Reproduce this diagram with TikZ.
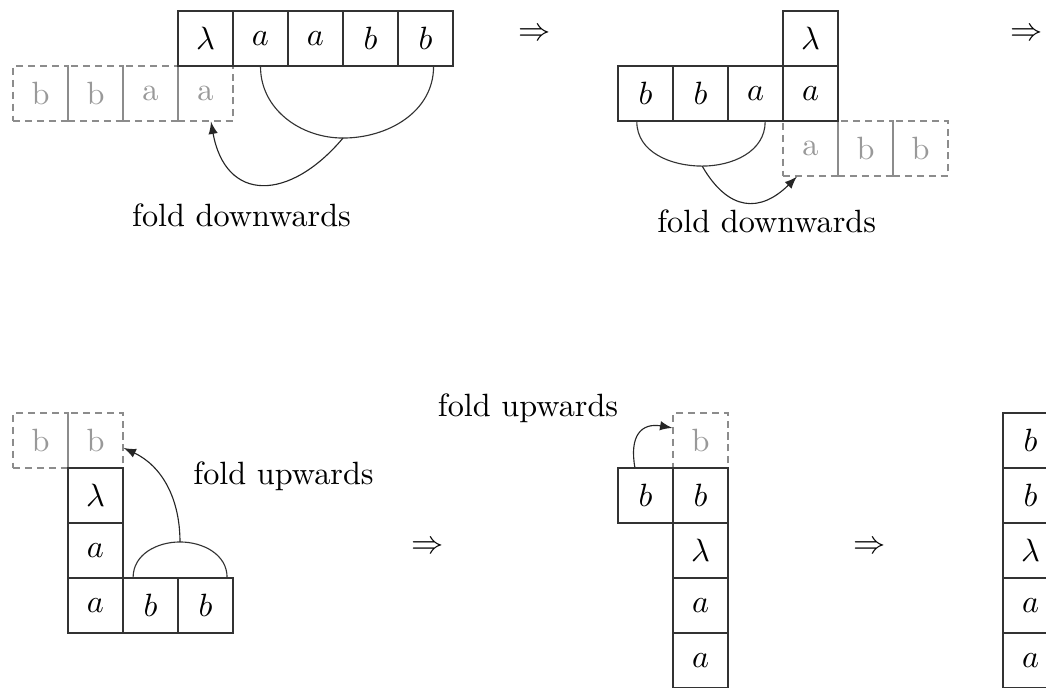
\documentclass[tikz,border=0pt]{standalone}
\usepackage{amsmath}

\begin{document}
\begin{tikzpicture}[x=0.6cm, y=0.6cm, line width=0.35pt,
  cell/.style={draw=black!80, minimum size=0.6cm, inner sep=0pt},
  ghost/.style={draw=black!45, dash pattern=on 2.2pt off 1.5pt, text=black!40, minimum size=0.6cm, inner sep=0pt},
  brace/.style={black!80},
  fold/.style={black!85, -latex}]
\useasboundingbox (0,0) rectangle (19.018,-12.509);

%the first step
\begin{scope}[shift={(0.7364,-0.7)}]
\node [ghost] (ga1) at (0,-1) {b};
\node [ghost] (ga2) at (1,-1) {b};
\node [ghost] (ga3) at (2,-1) {a};
\node [ghost] (ga4) at (3,-1) {a};
\node [cell] (l1) at (3,0) {$\lambda$};
\node [cell] (a1) at (4,0) {$a$};
\node [cell] (a2) at (5,0) {$a$};
\node [cell] (b1) at (6,0) {$b$};
\node [cell] (b2) at (7,0) {$b$};
\coordinate (fold1) at (5.5,-1.81);
\draw [brace] (a1.south) to[out=-90,in=180] (fold1) to[out=0,in=-90] ([xshift=2.5pt]b2.south);
\draw [fold] (fold1) to[out=-130,in=-80,looseness=1.6] ([xshift=1.7pt]ga4.south);

%the second step
\node [ghost] (gb1) at (14,-2) {a};
\node [ghost] (gb2) at (15,-2) {b};
\node [ghost] (gb3) at (16,-2) {b};
\node [cell] (l2) at (14,0) {$\lambda$};
\node [cell] (c1) at (11,-1) {$b$};
\node [cell] (c2) at (12,-1) {$b$};
\node [cell] (c3) at (13,-1) {$a$};
\node [cell] (c4) at (14,-1) {$a$};
\coordinate (fold2) at (12.03,-2.32);
\draw [brace] ([xshift=-2.7pt]c1.south) to[out=-90,in=180] (fold2) to[out=0,in=-90] ([xshift=3pt]c3.south);
\draw [fold] (fold2) to[out=-60,in=-135,looseness=1.4] ([xshift=-4.2pt]gb1.south);
\end{scope}

\node [anchor=base] (down1) at (4.391,-4.127) {fold downwards};
\node [anchor=base] (down2) at (13.94,-4.236) {fold downwards};
\node (imp1) at (9.727,-0.636) {$\Rightarrow$};
\node (imp2) at (18.673,-0.636) {$\Rightarrow$};

%the third step
\begin{scope}[shift={(0.7364,-8.009)}]
\node [ghost] (gc1) at (0,0) {b};
\node [ghost] (gc2) at (1,0) {b};
\node [cell] (l3) at (1,-1) {$\lambda$};
\node [cell] (d1) at (1,-2) {$a$};
\node [cell] (d2) at (1,-3) {$a$};
\node [cell] (d3) at (2,-3) {$b$};
\node [cell] (d4) at (3,-3) {$b$};
\coordinate (fold3) at (2.536,-1.845);
\draw [brace] ([xshift=-5.4pt]d3.north) to[out=90,in=180] (fold3) to[out=0,in=90] ([xshift=6.7pt]d4.north);
\draw [fold] (fold3) to[out=90,in=-25] ([yshift=-2.3pt]gc2.east);

%the fourth step
\node [ghost] (ge1) at (12,0) {b};
\node [cell] (e1) at (11,-1) {$b$};
\node [cell] (e2) at (12,-1) {$b$};
\node [cell] (l4) at (12,-2) {$\lambda$};
\node [cell] (e3) at (12,-3) {$a$};
\node [cell] (e4) at (12,-4) {$a$};
\draw [fold] ([xshift=-3.3pt]e1.north) to[out=100,in=170,looseness=1.5] ([yshift=3.9pt]ge1.west);

%the result
\node [cell] (f1) at (18,0) {$b$};
\node [cell] (f2) at (18,-1) {$b$};
\node [cell] (l5) at (18,-2) {$\lambda$};
\node [cell] (f3) at (18,-3) {$a$};
\node [cell] (f4) at (18,-4) {$a$};
\end{scope}

\node [anchor=base] (up1) at (5.155,-8.818) {fold upwards};
\node [anchor=base] (up2) at (9.6,-7.564) {fold upwards};
\node (imp3) at (7.782,-9.964) {$\Rightarrow$};
\node (imp4) at (15.818,-9.964) {$\Rightarrow$};
\end{tikzpicture}
\end{document}
